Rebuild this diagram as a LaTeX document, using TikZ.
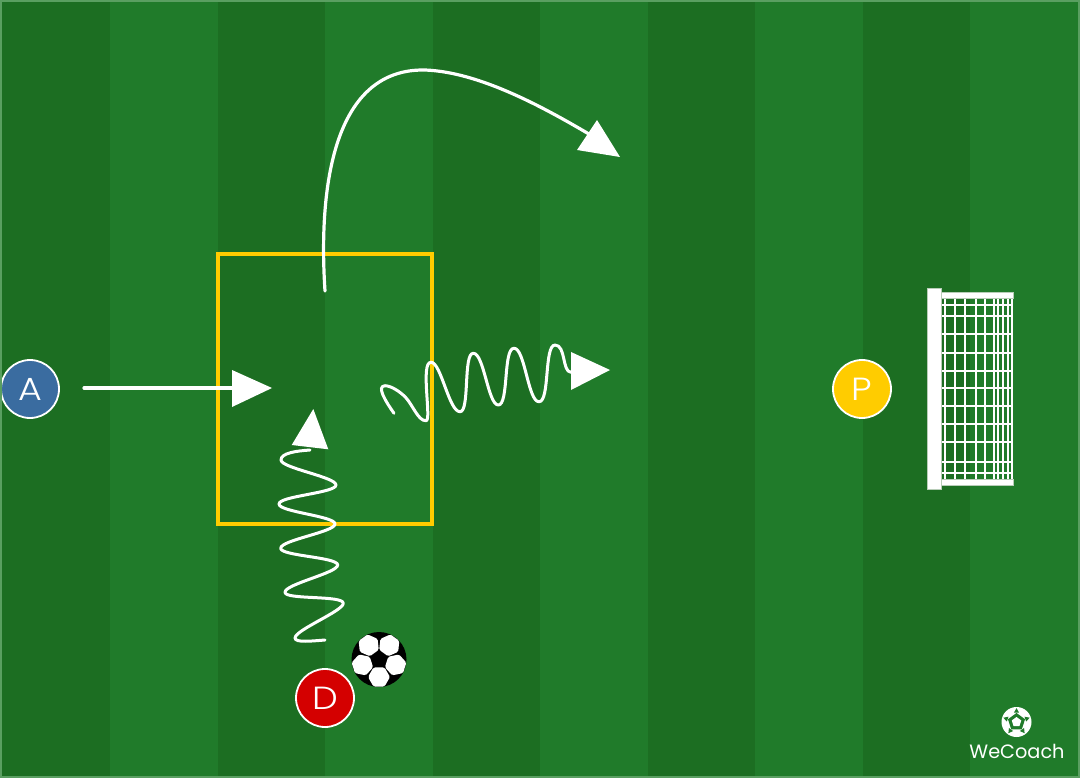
\documentclass[tikz,border=0pt]{standalone}
\usepackage{fontspec}
\setmainfont{Poppins}
\newfontfamily\lightlab[FakeStretch=1.14]{Poppins Light}
\usetikzlibrary{calc}
\definecolor{pitchD}{HTML}{1C6E22}
\definecolor{pitchL}{HTML}{207B2A}
\definecolor{pitchB}{HTML}{5A9F61}
\definecolor{zone}{HTML}{FFCC00}
\definecolor{attA}{HTML}{3A6CA0}
\definecolor{defD}{HTML}{D40000}
\definecolor{postE}{HTML}{B8CDB8}
\tikzset{
  x=1pt,y=-1pt,
  player/.style={circle,draw=white,line width=1.8pt,minimum size=58pt,inner sep=0pt,text=white,font=\lightlab\fontsize{32}{32}\selectfont},
  runline/.style={draw=white,line width=3.2pt,line cap=round,line join=round},
  squig/.style={runline,line width=3pt},
  head/.style={fill=white,draw=none},
  zonebox/.style={draw=zone,line width=3.5pt,inner sep=0pt,minimum width=214pt,minimum height=270pt},
  netline/.style={draw=white,line width=1.5pt},
  goalbar/.style={fill=white,draw=postE,line width=.8pt},
  brand/.style={text=white,inner sep=0pt,font=\fontsize{19.3}{20}\selectfont}
}
\begin{document}
\begin{tikzpicture}
\useasboundingbox (0,0) rectangle (1080,778);
\foreach \a/\b/\c in {0/110/pitchD,110/218/pitchL,218/325/pitchD,325/433/pitchL,433/540/pitchD,540/648/pitchL,648/755/pitchD,755/863/pitchL,863/970/pitchD,970/1080/pitchL}
  \fill[\c] (\a,0) rectangle (\b,778);
% zone
\node[zonebox] (zonebox) at (325,389) {};
% goal
\foreach \yy in {305,316,334,353,371,388,406,424,442,462,473}
  \draw[netline] (941,\yy) -- (1013,\yy);
\foreach \xx in {945,955,965,976,985,994,998,1003,1008,1012}
  \draw[netline] (\xx,292) -- (\xx,485);
\fill[goalbar] (941,292) rectangle (1013,298.5);
\fill[goalbar] (941,479) rectangle (1013,485.5);
\draw[goalbar] (927,288) rectangle (941,489);
% players
\node[player,fill=attA] (A) at (30,389) {\raisebox{-1pt}{A}};
\node[player,fill=defD] (D) at (325,698) {\raisebox{-1pt}{D}};
\node[player,fill=zone] (P) at (862,389) {\raisebox{-1pt}{P}};
% ball
\node[circle,fill=black,minimum size=55pt,inner sep=0pt] (ball) at (379,659.5) {};
\foreach \t in {54,126,198,270,342}{
  \fill[white,rounded corners=1.5pt]
    ($(ball)+({17.5*cos(\t)},{-17.5*sin(\t)})+({11*cos(\t+30)},{-11*sin(\t+30)})$)
    -- ($(ball)+({17.5*cos(\t)},{-17.5*sin(\t)})+({11*cos(\t+90)},{-11*sin(\t+90)})$)
    -- ($(ball)+({17.5*cos(\t)},{-17.5*sin(\t)})+({11*cos(\t+150)},{-11*sin(\t+150)})$)
    -- ($(ball)+({17.5*cos(\t)},{-17.5*sin(\t)})+({11*cos(\t+210)},{-11*sin(\t+210)})$)
    -- ($(ball)+({17.5*cos(\t)},{-17.5*sin(\t)})+({11*cos(\t+270)},{-11*sin(\t+270)})$)
    -- ($(ball)+({17.5*cos(\t)},{-17.5*sin(\t)})+({11*cos(\t+330)},{-11*sin(\t+330)})$)
    -- cycle;
}
% run A
\coordinate (aS) at (84,388);
\coordinate (aE) at (233,388);
\draw[runline] (aS) -- (aE);
\fill[head] (232,370) -- (272,388) -- (232,407) -- cycle;
% curved pass
\coordinate (cS) at (325,291);
\coordinate (cE) at (594,137);
\draw[runline] (cS) .. controls (321,230) and (318,68) .. (425,70)
  .. controls (480,72) and (545,108) .. (cE);
\fill[head] (620,157) -- (577,150) -- (597,120) -- cycle;
% dribble up
\coordinate (dS) at (325,640);
\coordinate (dE) at (310,450);
\draw[squig] (dS) .. controls (312,641) and (295,643) .. (295,638)
  .. controls (295,630) and (343.3,611) .. (343.3,603.3)
  .. controls (343.3,595) and (285,600) .. (285,592.3)
  .. controls (285,584) and (337.7,573) .. (337.7,565)
  .. controls (337.7,557) and (280.7,556) .. (280.7,548.3)
  .. controls (280.7,540) and (335,532) .. (335,524)
  .. controls (335,516) and (279,512) .. (279,504)
  .. controls (279,496) and (336,493) .. (336,485)
  .. controls (336,477) and (281,468) .. (281,460)
  .. controls (281,453) and (296,451) .. (dE);
\fill[head] (313.3,409) -- (328.3,449.3) -- (291.7,445) -- cycle;
% dribble right
\coordinate (eS) at (394,413.3);
\coordinate (eE) at (571,372.3);
\draw[squig] (eS) .. controls (386,402) and (376,386) .. (385,385.7)
  .. controls (392,386) and (400,392) .. (405,396.7)
  .. controls (413,405) and (418,421) .. (426,420.7)
  .. controls (432,421) and (420,362) .. (431,362.3)
  .. controls (441,362) and (449,412) .. (460,411.7)
  .. controls (470,412) and (463,353) .. (473.3,353.3)
  .. controls (484,353) and (488,405) .. (498.3,405)
  .. controls (509,405) and (503,348) .. (514,348.3)
  .. controls (525,348) and (528,402) .. (539,401.7)
  .. controls (550,402) and (544,345) .. (555,345)
  .. controls (566,345) and (562,372) .. (eE);
\fill[head] (571,352) -- (610,370) -- (571,390) -- cycle;
% logo
\node[circle,fill=white,minimum size=30pt,inner sep=0pt] (logo) at (1016.5,722) {};
\fill[pitchL] ($(logo)+(90:-9)$) -- ($(logo)+(18:-9)$) -- ($(logo)+(-54:-9)$) -- ($(logo)+(-126:-9)$) -- ($(logo)+(162:-9)$) -- cycle;
\fill[white] ($(logo)+(90:-5)$) -- ($(logo)+(18:-5)$) -- ($(logo)+(-54:-5)$) -- ($(logo)+(-126:-5)$) -- ($(logo)+(162:-5)$) -- cycle;
\foreach \t in {18,90,162,234,306}{
  \fill[pitchL]
    ($(logo)+({10.8*cos(\t)},{-10.8*sin(\t)})+({3*cos(\t)},{-3*sin(\t)})$)
    -- ($(logo)+({10.8*cos(\t)},{-10.8*sin(\t)})+({3*cos(\t+120)},{-3*sin(\t+120)})$)
    -- ($(logo)+({10.8*cos(\t)},{-10.8*sin(\t)})+({3*cos(\t+240)},{-3*sin(\t+240)})$)
    -- cycle;
}
\node[brand] (brand) at (1017,751) {WeCoach};
% pitch frame
\draw[pitchB,line width=2pt] (1,1) rectangle (1079,777);
\end{tikzpicture}
\end{document}
